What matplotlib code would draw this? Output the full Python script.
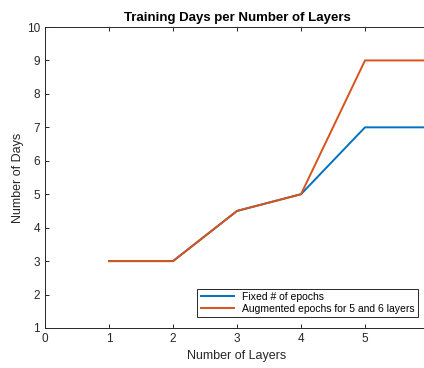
# Training days vs number of layers, MATLAB-like look
import matplotlib.pyplot as plt

plt.rcParams['font.family'] = ['Liberation Sans', 'DejaVu Sans']

layers = [1, 2, 3, 4, 5, 6]
fixed_days = [3, 3, 4.5, 5, 7, 7]
augmented_days = [3, 3, 4.5, 5, 9, 9]
x_tick_labels = ['0', '1', '2', '3', '4', '5', '']

fig = plt.figure(figsize=(4.24, 3.68), dpi=100)
ax = fig.add_axes([45 / 424, 40 / 368, 384 / 424, 301 / 368])

ax.plot(layers, fixed_days, color='#0072BD', lw=1.4, label='Fixed # of epochs')
ax.plot(layers, augmented_days, color='#D95319', lw=1.4,
        label='Augmented epochs for 5 and 6 layers')

ax.set_xlim(0, 6)
ax.set_ylim(1, 10)
ax.set_xticks(range(0, 7))
ax.set_xticklabels(x_tick_labels)
ax.set_yticks(range(1, 11))
ax.tick_params(direction='in', top=True, right=True, length=3,
               colors='#262626', labelsize=8.5, width=0.7)
for sp in ax.spines.values():
    sp.set_color('#262626')
    sp.set_linewidth(0.7)

ax.set_title('Training Days per Number of Layers', fontsize=9.5,
             fontweight='bold', pad=4)
ax.set_xlabel('Number of Layers', fontsize=9, color='#262626')
ax.set_ylabel('Number of Days', fontsize=9, color='#262626', labelpad=2)

leg = ax.legend(loc='lower right', bbox_to_anchor=(418 / 424, 51 / 368),
                bbox_transform=fig.transFigure, fontsize=7.5, fancybox=False,
                framealpha=1, edgecolor='#262626', borderpad=0.3,
                handlelength=3.2, labelspacing=0.2, borderaxespad=0)
leg.get_frame().set_linewidth(0.7)

fig.savefig('out.png', dpi=100)
